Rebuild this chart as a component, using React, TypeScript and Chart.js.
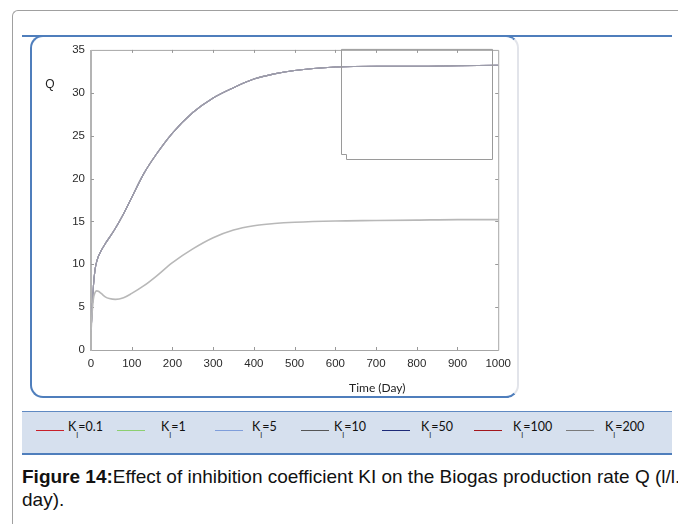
import React, { useEffect, useRef } from "react";
import { Chart, registerables } from "chart.js";

Chart.register(...registerables);

// ---- data ----
const timeDays = [0, 3, 6, 10, 14, 18, 25, 35, 45, 60, 80, 100, 130, 160, 200, 250, 300, 350, 400, 450, 500, 600, 700, 800, 900, 1000];
const qK01 = [2.1, 4.5, 6.0, 6.7, 6.9, 6.85, 6.6, 6.2, 6.0, 5.9, 6.1, 6.6, 7.5, 8.6, 10.2, 11.8, 13.1, 14.0, 14.5, 14.75, 14.9, 15.05, 15.1, 15.15, 15.2, 15.2];
const qK1 = [2.1, 4.8, 7.5, 9.4, 10.3, 10.9, 11.6, 12.4, 13.1, 14.2, 15.9, 17.8, 20.6, 22.8, 25.3, 27.7, 29.4, 30.6, 31.6, 32.2, 32.6, 33.0, 33.1, 33.1, 33.15, 33.2];
const qK5 = [2.1, 4.8, 7.5, 9.4, 10.3, 10.9, 11.6, 12.4, 13.1, 14.2, 15.9, 17.8, 20.6, 22.8, 25.3, 27.7, 29.4, 30.6, 31.6, 32.2, 32.6, 33.0, 33.1, 33.1, 33.15, 33.2];
const qK10 = [2.1, 4.8, 7.5, 9.4, 10.3, 10.9, 11.6, 12.4, 13.1, 14.2, 15.9, 17.8, 20.6, 22.8, 25.3, 27.7, 29.4, 30.6, 31.6, 32.2, 32.6, 33.0, 33.1, 33.1, 33.15, 33.2];
const qK50 = [2.1, 4.8, 7.5, 9.4, 10.3, 10.9, 11.6, 12.4, 13.1, 14.2, 15.9, 17.8, 20.6, 22.8, 25.3, 27.7, 29.4, 30.6, 31.6, 32.2, 32.6, 33.0, 33.1, 33.1, 33.15, 33.2];
const qK100 = [2.1, 4.8, 7.5, 9.4, 10.3, 10.9, 11.6, 12.4, 13.1, 14.2, 15.9, 17.8, 20.6, 22.8, 25.3, 27.7, 29.4, 30.6, 31.6, 32.2, 32.6, 33.0, 33.1, 33.1, 33.15, 33.2];
const qK200 = [2.1, 4.8, 7.5, 9.4, 10.3, 10.9, 11.6, 12.4, 13.1, 14.2, 15.9, 17.8, 20.6, 22.8, 25.3, 27.7, 29.4, 30.6, 31.6, 32.2, 32.6, 33.0, 33.1, 33.1, 33.15, 33.2];

const kLabels = ["0.1", "1", "5", "10", "50", "100", "200"];
const xTicks = [0, 100, 200, 300, 400, 500, 600, 700, 800, 900, 1000];
const yTicks = [0, 5, 10, 15, 20, 25, 30, 35];
const insetX = [615, 627, 985];
const insetY = [22.9, 22.3];

// ---- styles ----
const legendColors = ["#c8202a", "#8ccf70", "#7f9edb", "#555555", "#1d2a78", "#a3161c", "#7a7a7a"];
const plotColors = ["#b8b8b8", "#9c9caa", "#9c9caa", "#9c9caa", "#9c9caa", "#c8b0d0", "#8a8a98"];
const legendLineX = [36, 117, 215, 301, 382, 474, 566];
const legendTextX = [68, 161, 252, 334, 421, 513, 605];

const seriesValues = [qK01, qK1, qK5, qK10, qK50, qK100, qK200];

const TICK_FONT = "'Liberation Sans Narrow', 'Liberation Sans', Arial, sans-serif";

const decor = {
  id: "decor",
  beforeDatasetsDraw(chart: any) {
    const { ctx, chartArea: a, scales } = chart;
    const xs = scales.x;
    const ys = scales.y;
    ctx.save();
    ctx.strokeStyle = "#a6a6a6";
    ctx.lineWidth = 1;
    ctx.beginPath();
    ctx.moveTo(a.left, a.top + 0.5);
    ctx.lineTo(a.right + 0.5, a.top + 0.5);
    ctx.lineTo(a.right + 0.5, a.bottom + 0.5);
    ctx.lineTo(a.left, a.bottom + 0.5);
    ctx.stroke();
    ctx.strokeStyle = "#b4b4b4";
    ctx.lineWidth = 2;
    ctx.beginPath();
    ctx.moveTo(a.left, a.top);
    ctx.lineTo(a.left, a.bottom + 1);
    ctx.stroke();
    ctx.strokeStyle = "#999";
    ctx.lineWidth = 1;
    ctx.beginPath();
    xTicks.slice(1, -1).forEach((v) => {
      const px = Math.round(xs.getPixelForValue(v)) + 0.5;
      ctx.moveTo(px, a.bottom);
      ctx.lineTo(px, a.bottom - 3);
      ctx.moveTo(px, a.top);
      ctx.lineTo(px, a.top + 3);
    });
    yTicks.slice(1, -1).forEach((v) => {
      const py = Math.round(ys.getPixelForValue(v)) + 0.5;
      ctx.moveTo(a.left, py);
      ctx.lineTo(a.left + 3, py);
      ctx.moveTo(a.right, py);
      ctx.lineTo(a.right - 3, py);
    });
    ctx.stroke();
    ctx.restore();
  },
  afterDatasetsDraw(chart: any) {
    const { ctx, chartArea: a, scales } = chart;
    const xs = scales.x;
    const ys = scales.y;
    ctx.save();
    ctx.strokeStyle = "#9a9a9a";
    ctx.lineWidth = 1;
    const x0 = Math.round(xs.getPixelForValue(insetX[0])) + 0.5;
    const x1 = Math.round(xs.getPixelForValue(insetX[1])) + 0.5;
    const x2 = Math.round(xs.getPixelForValue(insetX[2])) + 0.5;
    const y0 = Math.round(ys.getPixelForValue(insetY[0])) + 0.5;
    const y1 = Math.round(ys.getPixelForValue(insetY[1])) + 0.5;
    const top = a.top - 1 + 0.5;
    ctx.beginPath();
    ctx.moveTo(x0, top);
    ctx.lineTo(x2, top);
    ctx.lineTo(x2, y1);
    ctx.lineTo(x1, y1);
    ctx.lineTo(x1, y0);
    ctx.lineTo(x0, y0);
    ctx.closePath();
    ctx.stroke();
    ctx.fillStyle = "#222";
    ctx.font = "12px 'Liberation Sans', Arial, sans-serif";
    ctx.textAlign = "center";
    ctx.textBaseline = "middle";
    ctx.fillText("Q", a.left - 41, ys.getPixelForValue(30.9));
    ctx.font = "12px Lato, 'Open Sans', sans-serif";
    ctx.fillStyle = "#222";
    ctx.fillText("Time (Day)", xs.getPixelForValue(703), a.bottom + 38);
    ctx.restore();
  },
};

export default function App() {
  const ref = useRef<HTMLCanvasElement>(null);

  useEffect(() => {
    if (!ref.current) return;
    const datasets = kLabels.map((k, i) => ({
      label: "K_I=" + k,
      data: timeDays.map((t, j) => ({ x: t, y: seriesValues[i][j] })),
      borderColor: plotColors[i],
      backgroundColor: plotColors[i],
      borderWidth: i === 0 ? 1.6 : 1.1,
      pointRadius: 0,
      fill: false,
      cubicInterpolationMode: "monotone" as const,
    }));
    const chart = new Chart(ref.current, {
      type: "line",
      data: { datasets },
      options: {
        animation: false,
        responsive: false,
        devicePixelRatio: 1,
        layout: { padding: { top: 12, right: 19, left: 0, bottom: 0 } },
        plugins: { legend: { display: false }, tooltip: { enabled: false } },
        scales: {
          x: {
            type: "linear",
            min: 0,
            max: 1000,
            afterFit: (s: any) => {
              s.height = 45;
            },
            afterBuildTicks: (s: any) => {
              s.ticks = xTicks.map((v) => ({ value: v }));
            },
            grid: { display: false, drawTicks: false },
            border: { display: false },
            ticks: {
              autoSkip: false,
              maxRotation: 0,
              padding: 7,
              color: "#2a2a2a",
              font: { family: TICK_FONT, size: 11.5 },
              callback: (v: any) => String(v),
            },
          },
          y: {
            type: "linear",
            min: 0,
            max: 35,
            afterFit: (s: any) => {
              s.width = 61;
            },
            afterBuildTicks: (s: any) => {
              s.ticks = yTicks.map((v) => ({ value: v }));
            },
            grid: { display: false, drawTicks: false },
            border: { display: false },
            ticks: {
              padding: 6,
              color: "#2a2a2a",
              font: { family: TICK_FONT, size: 11.5 },
              callback: (v: any) => String(v),
            },
          },
        },
      },
      plugins: [decor],
    });
    return () => chart.destroy();
  }, []);

  const blue = "#4f7ebc";

  return (
    <div
      style={{
        position: "absolute",
        left: 0,
        top: 0,
        width: 678,
        height: 524,
        overflow: "hidden",
        background: "#fff",
      }}
    >
      <div
        style={{
          position: "absolute",
          left: 12,
          top: 10,
          width: 720,
          height: 600,
          borderTop: "1px solid #a0a0a0",
          borderLeft: "1px solid #a0a0a0",
          borderTopLeftRadius: 6,
        }}
      />
      <div style={{ position: "absolute", left: 22, top: 35, width: 650, height: 2, background: blue }} />
      <div
        style={{
          position: "absolute",
          left: 30,
          top: 35,
          width: 489,
          height: 363,
          boxSizing: "border-box",
          border: "2px solid " + blue,
          borderRightColor: "#e2e4ea",
          borderRadius: 13,
        }}
      />
      <canvas
        ref={ref}
        width={488}
        height={358}
        style={{ position: "absolute", left: 30, top: 37, width: 488, height: 358 }}
      />
      <div
        style={{
          position: "absolute",
          left: 22,
          top: 411,
          width: 650,
          height: 44,
          boxSizing: "border-box",
          background: "#d6e0ee",
          borderTop: "1px solid #5f89c2",
          borderBottom: "2px solid " + blue,
        }}
      />
      {kLabels.map((k, i) => (
        <React.Fragment key={k}>
          <div
            style={{
              position: "absolute",
              left: legendLineX[i],
              top: 430,
              width: 28,
              height: 1,
              background: legendColors[i],
            }}
          />
          <div
            style={{
              position: "absolute",
              left: legendTextX[i],
              top: 421,
              fontFamily: "Lato, 'Open Sans', sans-serif",
              fontSize: 12.5,
              lineHeight: "12px",
              color: "#111",
              whiteSpace: "nowrap",
            }}
          >
            K
            <span style={{ fontSize: 7, position: "relative", top: 7, color: "#111" }}>I</span>
            ={k}
          </div>
        </React.Fragment>
      ))}
      <div
        style={{
          position: "absolute",
          left: 22,
          top: 465,
          width: 670,
          fontFamily: "'Liberation Sans', Arial, sans-serif",
          fontSize: 19,
          lineHeight: "23px",
          color: "#111",
        }}
      >
        <div style={{ whiteSpace: "nowrap" }}>
          <b>Figure 14:</b>Effect of inhibition coefficient KI on the Biogas production rate Q (l/l.
        </div>
        <div>day).</div>
      </div>
    </div>
  );
}
